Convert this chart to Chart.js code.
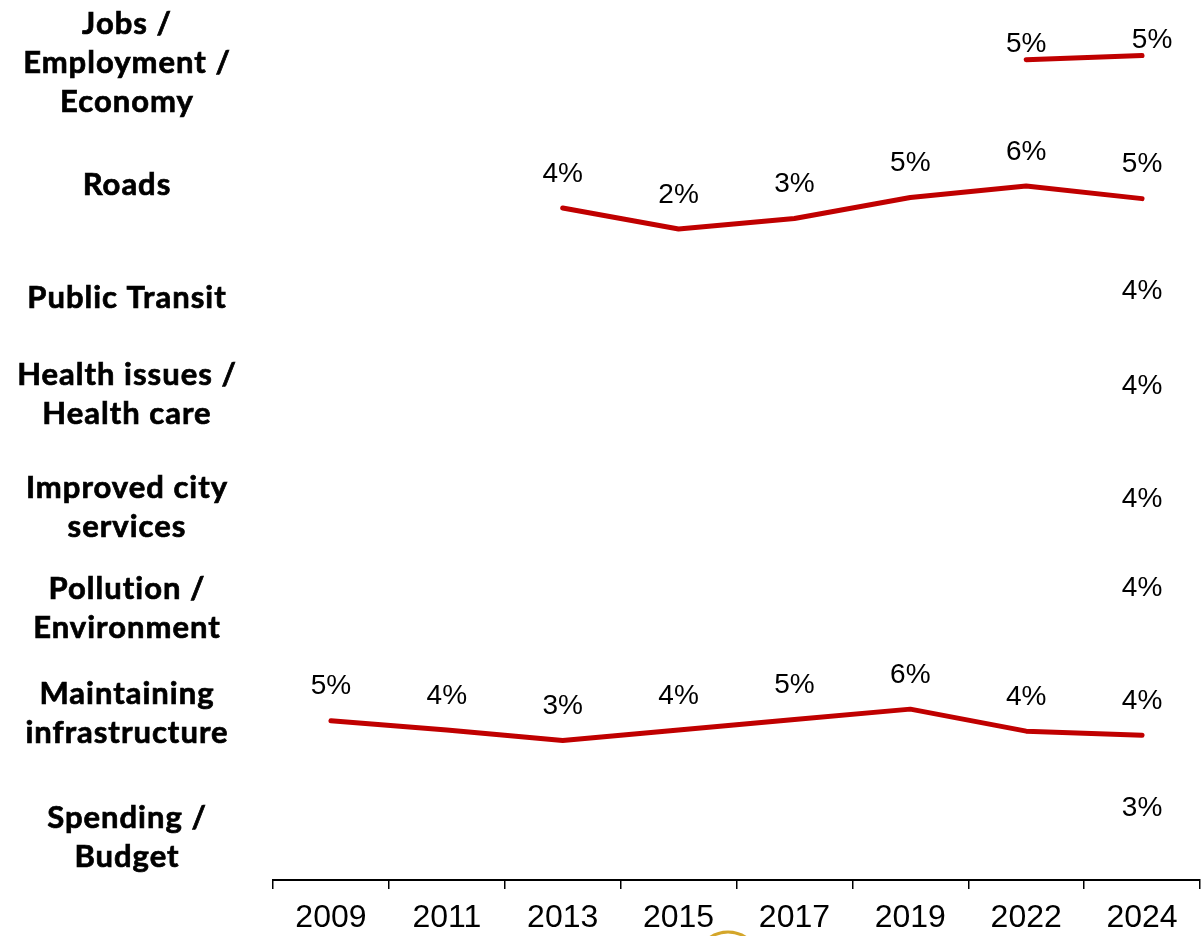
<!DOCTYPE html>
<html>
<head>
<meta charset="utf-8">
<script src="https://cdn.jsdelivr.net/npm/chart.js@4.4.1/dist/chart.umd.min.js"></script>
<style>
  body { margin: 0; background: #fff; }
  #wrap { width: 1204px; height: 936px; position: relative; }
</style>
</head>
<body>
<div id="wrap"><canvas id="issuesChart"></canvas></div>
<script>
// survey years
const years = ['2009', '2011', '2013', '2015', '2017', '2019', '2022', '2024'];

// row labels, top to bottom
const issues = [
  ['Jobs /', 'Employment /', 'Economy'],
  ['Roads'],
  ['Public Transit'],
  ['Health issues /', 'Health care'],
  ['Improved city', 'services'],
  ['Pollution /', 'Environment'],
  ['Maintaining', 'infrastructure'],
  ['Spending /', 'Budget'],
];

// % mentioning each issue
const jobs = [null, null, null, null, null, null, 4.8, 5.2];
const roads = [null, null, 4, 2, 3, 5, 6.1, 4.9];
const transit = [null, null, null, null, null, null, null, 4];
const health = [null, null, null, null, null, null, null, 4];
const cityServices = [null, null, null, null, null, null, null, 4];
const pollution = [null, null, null, null, null, null, null, 4];
const infrastructure = [4.9, 4, 3, 4, 5, 6, 3.9, 3.5];
const spending = [null, null, null, null, null, null, null, 3];

const series = [jobs, roads, transit, health, cityServices, pollution, infrastructure, spending];

// each row gets its own small y range (same span, so same slope everywhere)
const ROW_SPAN = 10.5;
const rowMin = [0, 2.86, 3.52, 2.09, 2.38, 0.37, 0.19, -0.63];
const rowLabelNudge = [8, 20, 23, 9, 12, 3.5, -2, 12];
const valueLift = [15, 34, 34, 34, 34, 34, 34, 34];

const RED = '#C00000';

// stacked left axes are laid out bottom-up, so add them in reverse
const rowScales = {};
for (let i = issues.length - 1; i >= 0; i--) {
  rowScales['r' + i] = {
    type: 'linear',
    display: false,
    position: 'left',
    stack: 'rows',
    stackWeight: 1,
    min: rowMin[i],
    max: rowMin[i] + ROW_SPAN,
  };
}

const labelsPlugin = {
  id: 'rowLabels',
  afterDatasetsDraw(chart) {
    const ctx = chart.ctx;
    ctx.save();
    ctx.fillStyle = '#000';
    ctx.strokeStyle = '#000';
    ctx.textAlign = 'center';
    ctx.textBaseline = 'middle';

    // value labels above points
    ctx.font = '28px "Liberation Sans", Arial, sans-serif';
    chart.data.datasets.forEach((ds, i) => {
      const meta = chart.getDatasetMeta(i);
      meta.data.forEach((pt, j) => {
        const v = ds.data[j];
        if (v == null) return;
        const dx = (i === 0 && j === 7) ? 10 : 0;
        ctx.fillText(Math.round(v) + '%', pt.x + dx, pt.y - valueLift[i]);
      });
    });

    // issue names on the left (a thin stroke makes them a bit heavier)
    ctx.font = 'bold 31px Lato, "DejaVu Sans", sans-serif';
    ctx.letterSpacing = '1px';
    ctx.lineWidth = 0.7;
    issues.forEach((lines, i) => {
      const sc = chart.scales['r' + i];
      const cy = (sc.top + sc.bottom) / 2 + rowLabelNudge[i];
      const lh = 39;
      lines.forEach((t, k) => {
        const y = cy + (k - (lines.length - 1) / 2) * lh;
        ctx.fillText(t, 127, y);
        ctx.strokeText(t, 127, y);
      });
    });
    ctx.letterSpacing = '0px';

    // small gold ring peeking in at the bottom edge
    ctx.strokeStyle = '#D4A62A';
    ctx.lineWidth = 3;
    ctx.beginPath();
    ctx.arc(728, 964, 32, 0, Math.PI * 2);
    ctx.stroke();
    ctx.restore();
  }
};

new Chart(document.getElementById('issuesChart'), {
  type: 'line',
  data: {
    labels: years,
    datasets: series.map((vals, i) => {
      const n = vals.filter(v => v != null).length;
      return {
        label: issues[i].join(' '),
        data: vals,
        yAxisID: 'r' + i,
        borderColor: RED,
        backgroundColor: RED,
        borderWidth: n > 1 ? 5 : 0,
        borderCapStyle: n > 1 ? 'round' : 'butt',
        borderJoinStyle: 'round',
        pointRadius: 0,
        tension: 0,
        spanGaps: false,
        clip: false,
      };
    }),
  },
  options: {
    responsive: true,
    maintainAspectRatio: false,
    animation: false,
    layout: { padding: { left: 273, right: 4, top: 0, bottom: 0 } },
    plugins: {
      legend: { display: false },
      tooltip: { enabled: false },
    },
    scales: {
      x: {
        type: 'category',
        offset: true,
        afterFit(scale) { scale.height = 56; },
        grid: { offset: true, drawOnChartArea: false, color: '#000', lineWidth: 1.5, tickLength: 9 },
        border: { color: '#000', width: 2 },
        ticks: {
          color: '#000',
          padding: 13,
          maxRotation: 0,
          autoSkip: false,
          font: { family: '"Liberation Sans", Arial, sans-serif', size: 32, lineHeight: 1 },
        },
      },
      ...rowScales,
    },
  },
  plugins: [labelsPlugin],
});
</script>
</body>
</html>
